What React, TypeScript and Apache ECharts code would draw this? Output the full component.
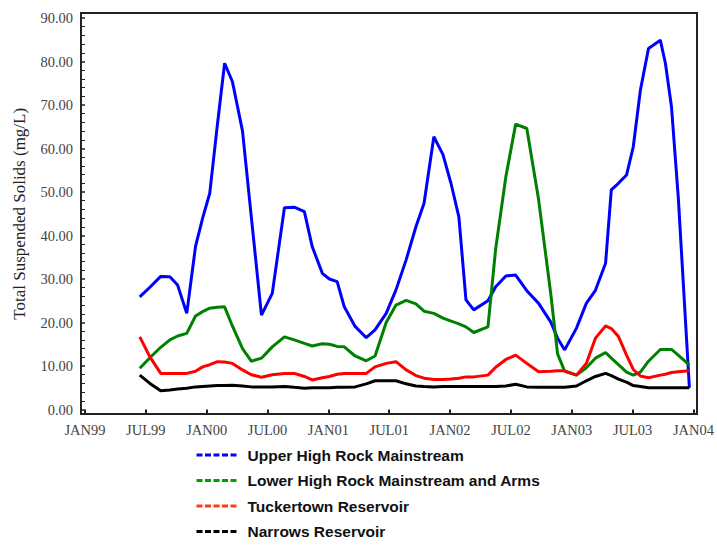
import React, { useEffect, useRef } from "react";
import * as echarts from "echarts";

// Sample dates (shared by all four series)
const sampleDates = [
  "1999-06-13", "1999-07-13", "1999-08-15", "1999-09-12", "1999-10-05", "1999-11-02", "1999-11-28", "1999-12-19",
  "2000-01-10", "2000-02-03", "2000-02-24", "2000-03-17", "2000-04-17", "2000-05-13", "2000-06-13", "2000-07-15",
  "2000-08-21", "2000-09-20", "2000-10-20", "2000-11-13", "2000-12-13", "2001-01-04", "2001-01-27", "2001-02-18",
  "2001-03-20", "2001-04-23", "2001-05-19", "2001-06-22", "2001-07-21", "2001-08-21", "2001-09-20", "2001-10-14",
  "2001-11-13", "2001-12-10", "2002-01-04", "2002-01-27", "2002-02-18", "2002-03-11", "2002-04-23", "2002-05-16",
  "2002-06-16", "2002-07-15", "2002-08-18", "2002-09-23", "2002-10-29", "2002-11-19", "2002-12-10", "2003-01-15",
  "2003-02-14", "2003-03-11", "2003-04-11", "2003-04-28", "2003-05-19", "2003-06-13", "2003-07-03", "2003-07-24",
  "2003-08-18", "2003-09-23", "2003-10-08", "2003-10-26", "2003-11-16", "2003-12-19",
];

const upperHighRock = [
  25.9, 28.1, 30.6, 30.5, 28.6, 22.1, 37.5, 44.0,
  49.7, 65.7, 79.6, 75.4, 64.0, 44.3, 21.7, 26.7,
  46.4, 46.5, 45.5, 37.5, 31.3, 30.0, 29.4, 23.6,
  19.1, 16.5, 18.3, 22.1, 27.5, 34.4, 42.0, 47.4,
  62.7, 58.6, 51.9, 44.3, 25.2, 22.9, 25.0, 28.2,
  30.7, 30.9, 27.3, 24.4, 20.1, 16.4, 13.7, 18.7,
  24.4, 27.4, 33.6, 50.5, 52.0, 53.9, 60.4, 73.4,
  83.0, 84.9, 79.6, 69.6, 48.9, 5.0,
];

const lowerHighRock = [
  9.5, 11.9, 14.3, 16.0, 16.9, 17.5, 21.5, 22.5,
  23.3, 23.5, 23.6, 19.2, 14.0, 11.1, 11.8, 14.4,
  16.7, 16.0, 15.2, 14.6, 15.1, 15.0, 14.5, 14.4,
  12.3, 11.2, 12.3, 20.0, 24.0, 25.1, 24.3, 22.6,
  22.1, 21.0, 20.3, 19.7, 19.0, 17.7, 19.0, 37.0,
  53.5, 65.6, 64.6, 48.2, 26.5, 12.8, 8.8, 7.9,
  9.6, 11.8, 13.1, 11.8, 10.3, 8.6, 7.9, 8.6,
  11.1, 13.8, 13.8, 13.8, 12.5, 10.2,
];

const tuckertown = [
  16.7, 12.1, 8.3, 8.3, 8.3, 8.3, 8.8, 9.8,
  10.3, 11.0, 10.9, 10.6, 9.1, 8.0, 7.4, 8.0,
  8.3, 8.3, 7.6, 6.8, 7.3, 7.6, 8.1, 8.3,
  8.3, 8.3, 9.8, 10.6, 11.0, 9.1, 7.8, 7.2,
  6.9, 6.9, 7.0, 7.2, 7.5, 7.5, 7.9, 9.7,
  11.5, 12.5, 10.6, 8.7, 8.8, 8.9, 8.9, 7.9,
  10.6, 16.4, 19.2, 18.6, 16.8, 12.5, 9.2, 7.7,
  7.3, 7.9, 8.1, 8.5, 8.7, 8.9,
];

const narrows = [
  7.9, 6.0, 4.3, 4.5, 4.7, 4.9, 5.2, 5.3,
  5.4, 5.5, 5.5, 5.6, 5.4, 5.2, 5.2, 5.2,
  5.3, 5.1, 4.9, 5.0, 5.0, 5.0, 5.1, 5.1,
  5.2, 5.9, 6.6, 6.6, 6.6, 5.9, 5.4, 5.3,
  5.2, 5.3, 5.3, 5.3, 5.3, 5.3, 5.3, 5.3,
  5.4, 5.8, 5.2, 5.1, 5.1, 5.1, 5.1, 5.4,
  6.6, 7.6, 8.3, 7.8, 7.0, 6.3, 5.5, 5.3,
  5.0, 5.0, 5.0, 5.0, 5.0, 5.0,
];

const seriesNames = [
  "Upper High Rock Mainstream",
  "Lower High Rock Mainstream and Arms",
  "Tuckertown Reservoir",
  "Narrows Reservoir",
];
const seriesColors = ["#0000ff", "#008000", "#ff0000", "#000000"];
const legendColors = ["#0000ff", "#00a000", "#ff3c14", "#000000"];

const xTickLabels = [
  "JAN99", "JUL99", "JAN00", "JUL00", "JAN01", "JUL01",
  "JAN02", "JUL02", "JAN03", "JUL03", "JAN04",
];

// months elapsed since 1 Jan 1999
function monthIndex(s: string): number {
  const [y, m, d] = s.split("-").map(Number);
  return (y - 1999) * 12 + (m - 1) + (d - 1) / 30;
}

export default function App() {
  const ref = useRef<HTMLDivElement>(null);

  useEffect(() => {
    if (!ref.current) return;
    const chart = echarts.init(ref.current, null, { renderer: "svg" });
    const values = [upperHighRock, lowerHighRock, tuckertown, narrows];
    const serif = "'Liberation Serif', 'Times New Roman', serif";

    chart.setOption({
      animation: false,
      backgroundColor: "#ffffff",
      grid: { left: 85, right: 22, top: 18, bottom: 135.5, containLabel: false },
      xAxis: {
        type: "value",
        min: 0,
        max: 60,
        interval: 6,
        offset: 4.5,
        axisLine: { show: false },
        axisTick: { show: true, length: 5, lineStyle: { color: "#222", width: 2 } },
        axisLabel: {
          margin: 8,
          fontFamily: serif,
          fontSize: 14.5,
          color: "#444",
          formatter: (v: number) => xTickLabels[Math.round(v / 6)] ?? "",
        },
        splitLine: { show: false },
      },
      yAxis: {
        type: "value",
        min: 0,
        max: 90,
        interval: 10,
        offset: 4,
        name: "Total Suspended Solids (mg/L)",
        nameLocation: "middle",
        nameRotate: 90,
        nameGap: 53,
        nameTextStyle: { fontFamily: serif, fontSize: 17, color: "#222" },
        axisLine: { show: false },
        axisTick: { show: true, length: 5, lineStyle: { color: "#222", width: 1.5 } },
        minorTick: { show: true, splitNumber: 5, length: 3, lineStyle: { color: "#222", width: 1 } },
        axisLabel: {
          margin: 8,
          fontFamily: serif,
          fontSize: 14.5,
          color: "#444",
          formatter: (v: number) => v.toFixed(2),
        },
        splitLine: { show: false },
        minorSplitLine: { show: false },
      },
      legend: {
        orient: "vertical",
        left: 195,
        top: 447,
        height: 140,
        padding: 0,
        itemWidth: 40,
        itemHeight: 14,
        itemGap: 9.5,
        itemStyle: { opacity: 0 },
        lineStyle: { type: [6, 2.5], width: 3 },
        textStyle: {
          fontFamily: "'Liberation Sans', Arial, sans-serif",
          fontWeight: "bold",
          fontSize: 15.5,
          color: "#111",
          lineHeight: 16,
          padding: [0, 0, 0, 6],
        },
        data: seriesNames.map((n, i) => ({
          name: n,
          itemStyle: { opacity: 0 },
          lineStyle: { color: legendColors[i], type: [6, 2.5], width: 3 },
        })),
      },
      graphic: [
        {
          type: "rect",
          shape: { x: 81, y: 13, width: 616, height: 401 },
          style: { fill: "none", stroke: "#222", lineWidth: 2 },
          silent: true,
          z: 10,
        },
      ],
      series: seriesNames.map((n, i) => ({
        name: n,
        type: "line",
        symbol: "none",
        showSymbol: false,
        lineStyle: { color: seriesColors[i], width: 3 },
        itemStyle: { color: seriesColors[i] },
        data: sampleDates.map((d, k) => [monthIndex(d), values[i][k]]),
      })),
    });

    return () => chart.dispose();
  }, []);

  return (
    <div
      ref={ref}
      style={{ position: "fixed", left: 0, top: 0, width: 717, height: 545, background: "#fff" }}
    />
  );
}
